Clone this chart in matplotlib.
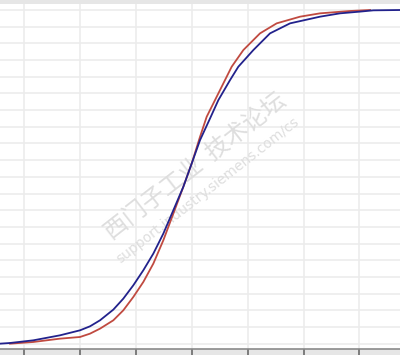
import numpy as np
import matplotlib
matplotlib.use("Agg")
import matplotlib.pyplot as plt

# kurvy (x, podíl)
blue_x = [-3.429, -3.250, -2.833, -2.356, -1.998, -1.819, -1.640, -1.402,
          -1.223, -1.044, -0.865, -0.686, -0.507, -0.328, -0.150, 0.000,
          0.149, 0.328, 0.477, 0.686, 0.834, 1.103, 1.401, 1.759, 2.295,
          2.653, 2.999, 3.250, 3.727]
blue_y = [0.000, 0.002, 0.010, 0.025, 0.040, 0.052, 0.070, 0.102,
          0.135, 0.175, 0.220, 0.270, 0.330, 0.400, 0.470, 0.540,
          0.610, 0.675, 0.730, 0.790, 0.830, 0.880, 0.930, 0.960, 0.980,
          0.990, 0.995, 0.999, 1.000]

red_x = [-3.250, -2.833, -2.356, -1.998, -1.819, -1.640, -1.402, -1.223,
         -1.044, -0.865, -0.686, -0.507, -0.328, -0.150, 0.000, 0.149,
         0.268, 0.417, 0.566, 0.715, 0.924, 1.222, 1.520, 1.938, 2.295,
         2.832, 3.190]
red_y = [0.000, 0.005, 0.015, 0.020, 0.030, 0.045, 0.070, 0.100,
         0.140, 0.185, 0.240, 0.310, 0.390, 0.470, 0.540, 0.620,
         0.680, 0.730, 0.780, 0.830, 0.880, 0.930, 0.960, 0.980, 0.990,
         0.997, 1.000]

x_ticks = [-3, -2, -1, 0, 1, 2, 3]
y_grid = np.arange(0, 1.0001, 0.05)

fig = plt.figure(figsize=(4.0, 3.55), dpi=100, facecolor='#e6e6e6')
ax = fig.add_axes([0, 6 / 355, 1, 345 / 355])
ax.set_facecolor('white')

for yv in y_grid:
    ax.axhline(yv, color='#ececec', lw=1.2, zorder=0)
for xv in x_ticks:
    ax.axvline(xv, color='#ececec', lw=1.2, zorder=0)

# vodoznak
ax.text(0.49, 0.53, '西门子工业  技术论坛', transform=ax.transAxes,
        rotation=38, ha='center', va='center', fontsize=17,
        color='#dedede', family=['Noto Sans CJK SC', 'DejaVu Sans'], zorder=1)
ax.text(0.52, 0.46, 'support.industry.siemens.com/cs', transform=ax.transAxes,
        rotation=38, ha='center', va='center', fontsize=10,
        color='#dedede', zorder=1)

ax.plot(red_x, red_y, color='#c04a40', lw=1.3, zorder=3)
ax.plot(blue_x, blue_y, color='#22228c', lw=1.3, zorder=3)

ax.set_xlim(-3.429, 3.726)
ax.set_ylim(-0.016, 1.018)

for s in ['top', 'left', 'right']:
    ax.spines[s].set_visible(False)
ax.spines['bottom'].set_color('#8a8a8a')
ax.spines['bottom'].set_linewidth(1.2)

ax.set_xticks(x_ticks)
ax.set_xticklabels([])
ax.set_yticks([])
ax.tick_params(axis='x', direction='out', length=5, width=1.2, color='#6a6a6a')

fig.savefig('out.png', dpi=100, facecolor=fig.get_facecolor())
